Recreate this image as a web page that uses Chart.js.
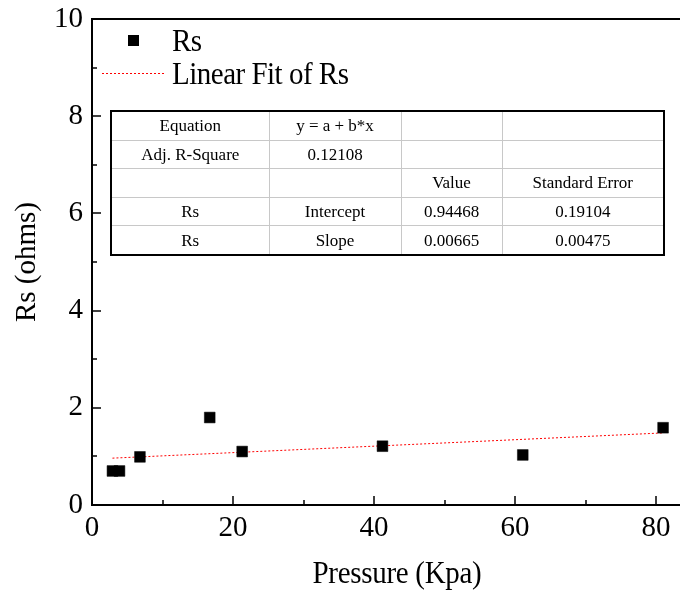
<!DOCTYPE html>
<html><head><meta charset="utf-8">
<script src="https://cdn.jsdelivr.net/npm/chart.js@4.4.1/dist/chart.umd.min.js"></script>
<style>
html,body{margin:0;padding:0;background:#fff;}
#wrap{position:relative;width:680px;height:591px;overflow:hidden;}
#c{position:absolute;left:0;top:0;}
.leg{position:absolute;font-family:"Liberation Serif";font-size:29px;color:#000;white-space:nowrap;line-height:1;letter-spacing:-0.5px;transform:scaleY(1.1);transform-origin:left top;}
#xt{position:absolute;left:247px;width:300px;top:557px;text-align:center;font-family:"Liberation Serif";font-size:29px;color:#000;white-space:nowrap;line-height:1;letter-spacing:-0.3px;transform:scaleY(1.08);transform-origin:center top;}
#sq{position:absolute;left:128px;top:35px;width:11px;height:11px;background:#000;}
#dl{position:absolute;left:102px;top:72px;}
table{position:absolute;left:110px;top:110px;border-collapse:collapse;table-layout:fixed;width:555px;font-family:"Liberation Serif";font-size:17px;border:2px solid #000;}
td{border:1px solid #c8c8c8;text-align:center;padding:0;height:27.6px;line-height:1;}
</style>
</head><body>
<div id="wrap">
<canvas id="c" width="680" height="591"></canvas>
<div id="sq"></div>
<div class="leg" style="left:172px;top:25px;">Rs</div>
<svg id="dl" width="62" height="3"><line x1="0" y1="1.5" x2="62" y2="1.5" stroke="#ff0000" stroke-width="1" stroke-dasharray="2 2"/></svg>
<div class="leg" style="left:172px;top:58px;">Linear Fit of Rs</div>
<div id="xt">Pressure (Kpa)</div>
<table>
<colgroup><col style="width:158px"><col style="width:132px"><col style="width:101px"><col style="width:162px"></colgroup>
<tr><td>Equation</td><td>y = a + b*x</td><td></td><td></td></tr>
<tr><td>Adj. R-Square</td><td>0.12108</td><td></td><td></td></tr>
<tr><td></td><td></td><td>Value</td><td>Standard Error</td></tr>
<tr><td>Rs</td><td>Intercept</td><td>0.94468</td><td>0.19104</td></tr>
<tr><td>Rs</td><td>Slope</td><td>0.00665</td><td>0.00475</td></tr>
</table>
</div>
<script>
const pressure = [2.9, 3.9, 6.8, 16.7, 21.3, 41.2, 61.1, 81.0];
const rsValues = [0.70, 0.70, 0.99, 1.80, 1.10, 1.21, 1.03, 1.59];
const fitX = [2.9, 81.0];
const fitY = [0.964, 1.483];
const xTicks = [0, 20, 40, 60, 80];
const xMinorTicks = [10, 30, 50, 70];
const yTicks = [0, 2, 4, 6, 8, 10];
const yMinorTicks = [1, 3, 5, 7, 9];

const FONT = "Liberation Serif";

const tickPlugin = {
  id: 'inTicks',
  afterDraw(chart) {
    const ctx = chart.ctx, a = chart.chartArea;
    const xs = chart.scales.x, ys = chart.scales.y;
    ctx.save();
    ctx.strokeStyle = '#000';
    ctx.lineWidth = 2;
    ctx.beginPath();
    ctx.moveTo(a.left, a.top); ctx.lineTo(a.right + 2, a.top);
    ctx.moveTo(a.left, a.bottom); ctx.lineTo(a.right + 2, a.bottom);
    ctx.moveTo(a.left, a.top - 1); ctx.lineTo(a.left, a.bottom + 1);
    ctx.stroke();
    ctx.lineWidth = 1.5;
    ctx.beginPath();
    xTicks.forEach(v => { const p = Math.round(xs.getPixelForValue(v)); ctx.moveTo(p, a.bottom); ctx.lineTo(p, a.bottom - 9); });
    xMinorTicks.forEach(v => { const p = Math.round(xs.getPixelForValue(v)); ctx.moveTo(p, a.bottom); ctx.lineTo(p, a.bottom - 5); });
    yTicks.forEach(v => { const p = Math.round(ys.getPixelForValue(v)); ctx.moveTo(a.left, p); ctx.lineTo(a.left + 9, p); });
    yMinorTicks.forEach(v => { const p = Math.round(ys.getPixelForValue(v)); ctx.moveTo(a.left, p); ctx.lineTo(a.left + 5, p); });
    ctx.stroke();
    ctx.restore();
  }
};

new Chart(document.getElementById('c'), {
  type: 'scatter',
  data: {
    datasets: [
      {
        label: 'Linear Fit of Rs',
        data: fitX.map((x, i) => ({x, y: fitY[i]})),
        showLine: true,
        borderColor: '#ff0000',
        borderWidth: 1,
        borderDash: [2, 2],
        pointRadius: 0,
        order: 2
      },
      {
        label: 'Rs',
        data: pressure.map((x, i) => ({x, y: rsValues[i]})),
        pointStyle: 'rect',
        pointRadius: 7.6,
        backgroundColor: '#000',
        borderColor: '#000',
        borderWidth: 0.5,
        order: 1
      }
    ]
  },
  options: {
    responsive: false,
    animation: false,
    layout: {autoPadding: false, padding: {left: 0, right: 0, top: 19, bottom: 0}},
    plugins: {legend: {display: false}, tooltip: {enabled: false}},
    scales: {
      x: {
        type: 'linear', min: 0, max: 83.4,
        afterBuildTicks: s => { s.ticks = xTicks.map(v => ({value: v})); },
        afterFit: s => { s.height = 86; s.paddingLeft = 0; s.paddingRight = 0; },
        grid: {display: false, drawTicks: false},
        border: {display: false},
        ticks: {color: '#000', padding: 6, font: {family: FONT, size: 29}, maxRotation: 0},
        title: {display: false}
      },
      y: {
        type: 'linear', min: 0, max: 10,
        afterBuildTicks: s => { s.ticks = yTicks.map(v => ({value: v})); },
        afterFit: s => { s.width = 92; s.paddingTop = 0; s.paddingBottom = 0; },
        grid: {display: false, drawTicks: false},
        border: {display: false},
        ticks: {color: '#000', padding: 9, font: {family: FONT, size: 29}},
        title: {display: true, text: 'Rs (ohms)', color: '#000', font: {family: FONT, size: 29, lineHeight: 1}, padding: {top: 13, bottom: 0}}
      }
    }
  },
  plugins: [tickPlugin]
});
</script>
</body></html>
